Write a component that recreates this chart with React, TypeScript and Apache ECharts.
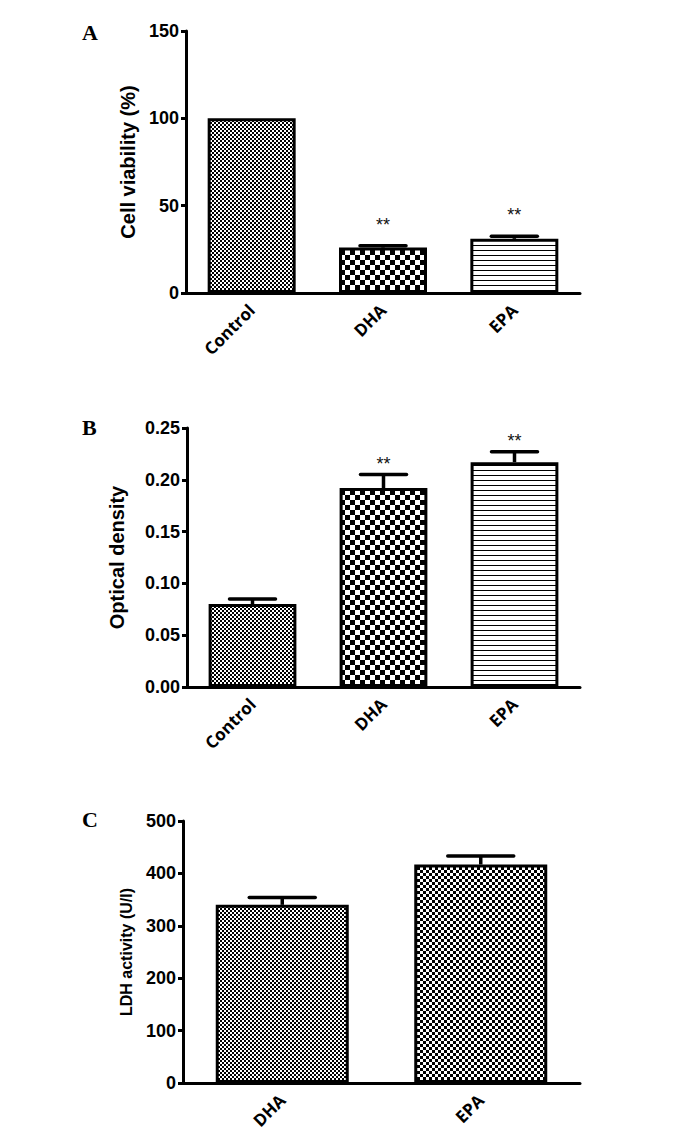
import React, { useEffect, useRef } from "react";
import * as echarts from "echarts";

const catsA = ["Control", "DHA", "EPA"];
const valsA = [100, 26, 31];
const errA = [0, 1, 1.5];
const sigA = ["", "**", "**"];

const catsB = ["Control", "DHA", "EPA"];
const valsB = [0.08, 0.192, 0.217];
const errB = [0.005, 0.013, 0.01];
const sigB = ["", "**", "**"];

const catsC = ["DHA", "EPA"];
const valsC = [340, 417];
const errC = [14, 16];
const sigC = ["", ""];

function checker(cell: number) {
  const c = document.createElement("canvas");
  c.width = cell * 2;
  c.height = cell * 2;
  const g = c.getContext("2d")!;
  g.fillStyle = "#fff";
  g.fillRect(0, 0, cell * 2, cell * 2);
  g.fillStyle = "#000";
  g.fillRect(0, 0, cell, cell);
  g.fillRect(cell, cell, cell, cell);
  return c;
}
function hlines(step: number) {
  const c = document.createElement("canvas");
  c.width = 8;
  c.height = step;
  const g = c.getContext("2d")!;
  g.fillStyle = "#fff";
  g.fillRect(0, 0, 8, step);
  g.fillStyle = "#000";
  g.fillRect(0, 0, 8, 1);
  return c;
}

const SANS = "Liberation Sans";

export default function App() {
  const ref = useRef<HTMLDivElement>(null);
  useEffect(() => {
    const chart = echarts.init(ref.current!, undefined, { renderer: "svg" });
    const fine = { image: checker(2), repeat: "repeat" };
    const big = { image: checker(5), repeat: "repeat" };
    const med = { image: checker(3), repeat: "repeat" };
    const lines = { image: hlines(5), repeat: "repeat" };
    const pats = [
      [fine, big, lines],
      [fine, big, lines],
      [fine, med],
    ];
    const grids = [
      { left: 186, top: 31, width: 394, height: 262 },
      { left: 187, top: 428, width: 393, height: 259 },
      { left: 183, top: 821, width: 397, height: 262 },
    ];
    const cats = [catsA, catsB, catsC];
    const vals = [valsA, valsB, valsC];
    const errs = [errA, errB, errC];
    const sigs = [sigA, sigB, sigC];
    const names = ["Cell viability (%)", "Optical density", "LDH activity (U/l)"];
    const nameSizes = [20, 20, 16];
    const nameGaps = [47, 60, 49];
    const maxes = [150, 0.25, 500];
    const intervals = [50, 0.05, 100];
    const starOff = [21, 11, 11];
    const capHalf = [23, 23, 33];

    const xAxis = cats.map((c, i) => ({
      type: "category",
      gridIndex: i,
      data: c,
      axisLine: { lineStyle: { color: "#000", width: 3 } },
      axisTick: { alignWithLabel: true, length: 6, lineStyle: { color: "#000", width: 2 } },
      axisLabel: {
        rotate: 45,
        margin: 14,
        color: "#000",
        fontFamily: "Open Sans",
        fontWeight: "bold",
        fontSize: 17,
      },
    }));
    const yAxis = cats.map((c, i) => ({
      type: "value",
      gridIndex: i,
      min: 0,
      max: maxes[i],
      interval: intervals[i],
      name: names[i],
      nameLocation: "middle",
      nameRotate: 90,
      nameGap: nameGaps[i],
      nameTextStyle: { color: "#000", fontFamily: SANS, fontWeight: "bold", fontSize: nameSizes[i] },
      splitLine: { show: false },
      axisLine: { show: true, lineStyle: { color: "#000", width: 3 } },
      axisTick: { show: true, length: 5, lineStyle: { color: "#000", width: 3 } },
      axisLabel: {
        color: "#000",
        fontFamily: SANS,
        fontWeight: "bold",
        fontSize: 18,
        margin: 7,
        formatter: (v: number) => (i === 1 ? v.toFixed(2) : String(v)),
      },
    }));
    const series: any[] = [];
    cats.forEach((c, i) => {
      series.push({
        type: "bar",
        xAxisIndex: i,
        yAxisIndex: i,
        barWidth: "67%",
        data: vals[i].map((v, j) => ({
          value: v,
          itemStyle: { color: pats[i][j], borderColor: "#000", borderWidth: 3 },
        })),
      });
      series.push({
        type: "custom",
        xAxisIndex: i,
        yAxisIndex: i,
        z: 5,
        data: vals[i].map((v, j) => [j, v, errs[i][j]]),
        renderItem: (params: any, api: any) => {
          const j = api.value(0);
          const v = api.value(1);
          const e = api.value(2);
          const base = api.coord([j, v]);
          const top = api.coord([j, v + e]);
          const children: any[] = [];
          if (e > 0) {
            children.push({
              type: "line",
              shape: { x1: base[0], y1: base[1], x2: top[0], y2: top[1] },
              style: { stroke: "#000", lineWidth: 3.5 },
            });
            children.push({
              type: "line",
              shape: { x1: top[0] - capHalf[i], y1: top[1], x2: top[0] + capHalf[i], y2: top[1] },
              style: { stroke: "#000", lineWidth: 3.5, lineCap: "round" },
            });
          }
          const s = sigs[i][j];
          if (s) {
            children.push({
              type: "text",
              style: {
                text: s,
                x: top[0],
                y: top[1] - starOff[i],
                align: "center",
                verticalAlign: "middle",
                textAlign: "center",
                textVerticalAlign: "middle",
                fill: "#111",
                font: "18px " + SANS,
              },
            });
          }
          return { type: "group", children };
        },
      });
    });

    chart.setOption({
      animation: false,
      backgroundColor: "#fff",
      grid: grids,
      xAxis,
      yAxis,
      series,
      graphic: [
        { type: "text", left: 82, top: 21, style: { text: "A", font: "bold 22px 'Liberation Serif'", fill: "#000" } },
        { type: "text", left: 82, top: 416, style: { text: "B", font: "bold 22px 'Liberation Serif'", fill: "#000" } },
        { type: "text", left: 82, top: 808, style: { text: "C", font: "bold 22px 'Liberation Serif'", fill: "#000" } },
      ],
    });
    return () => chart.dispose();
  }, []);
  return (
    <div
      ref={ref}
      style={{ position: "absolute", left: 0, top: 0, width: 688, height: 1142, background: "#fff" }}
    />
  );
}
